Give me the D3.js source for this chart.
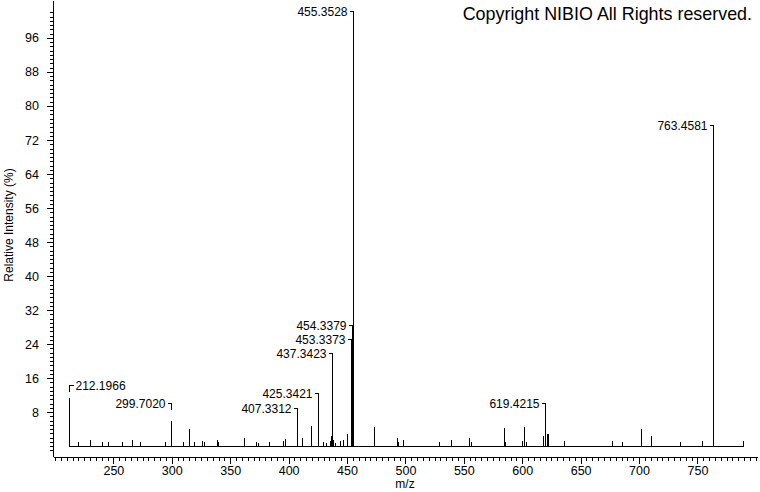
<!DOCTYPE html>
<html>
<head>
<meta charset="utf-8">
<script src="https://cdn.jsdelivr.net/npm/d3@7"></script>
<style>
  html, body { margin: 0; padding: 0; background: #fff; }
  svg { display: block; font-family: "Liberation Sans", Arial, sans-serif; }
</style>
</head>
<body>
<svg id="spectrum" width="760" height="492"></svg>
<script>
// peak list (m/z, relative intensity %)
const peakMz = [
  212.1966, 219.9, 229.9, 239.9, 245.6, 257.1, 265.6, 272.7, 294.2, 299.7020,
  309.8, 315.0, 319.0, 325.6, 327.6, 338.4, 339.8, 362.2, 371.8, 374.1,
  383.6, 395.6, 397.0, 407.3312, 411.1, 419.6, 425.3421, 429.5, 432.3, 435.3,
  436.3, 437.3423, 438.3, 440.0, 444.0, 446.5, 449.6, 453.3373, 454.3379, 455.3528,
  473.3, 492.5, 494.0, 498.2, 529.1, 539.0, 554.8, 556.2, 584.2, 585.0,
  599.9, 601.9, 603.3, 618.1, 619.4215, 621.0, 622.4, 636.1, 677.2, 685.8,
  702.1, 710.1, 735.0, 754.3, 763.4581, 788.6
];
const peakInt = [
  11.2, 1.0, 1.4, 1.0, 1.0, 1.0, 1.3, 1.0, 1.0, 6.0,
  1.0, 4.1, 1.0, 1.2, 1.0, 1.3, 1.0, 2.0, 1.0, 0.8,
  1.0, 1.2, 1.6, 6.1, 2.0, 4.6, 12.0, 1.0, 0.8, 1.2,
  2.4, 21.2, 1.4, 0.8, 1.2, 1.4, 2.9, 24.8, 28.0, 100,
  4.5, 1.8, 0.9, 1.5, 1.0, 1.5, 2.0, 1.0, 4.3, 0.9,
  1.2, 4.5, 1.0, 2.4, 9.6, 2.9, 2.9, 1.2, 1.2, 1.0,
  4.1, 2.4, 1.0, 1.2, 74.8, 1.2
];

// annotated peaks and the intensity level their label sits at
const labelMz = [212.1966, 299.7020, 407.3312, 425.3421, 437.3423, 453.3373, 454.3379, 455.3528, 619.4215, 763.4581];
const labelLevel = [14.35, 10.05, 9.0, 12.4, 21.8, 25.2, 28.5, 102.35, 10.05, 75.5];

const xTicksMajor = d3.range(250, 751, 50);
const xTicksMinor = d3.range(200, 801, 5);
const yTicksMajor = d3.range(8, 97, 8);
const yTicksMinor = d3.range(-1, 103, 1);

const copyright = "Copyright NIBIO All Rights reserved.";

const svg = d3.select("#spectrum");
const width = 760, height = 492;

const x = d3.scaleLinear().domain([198.3, 801]).range([53, 757]);
const y = d3.scaleLinear().domain([-2.35, 104.94]).range([456, 0]);

const peaks = peakMz.map((m, i) => ({ mz: m, v: peakInt[i] }));

// axes
const gx = svg.append("g").attr("transform", "translate(0,457)");
gx.call(d3.axisBottom(x).tickValues(xTicksMinor).tickSize(4).tickSizeOuter(0).tickFormat(""));
gx.append("g").call(d3.axisBottom(x).tickValues(xTicksMajor).tickSize(7).tickPadding(2).tickSizeOuter(0))
  .call(g => g.select(".domain").remove());

const gy = svg.append("g").attr("transform", "translate(53,0)");
gy.call(d3.axisLeft(y).tickValues(yTicksMinor).tickSize(3).tickSizeOuter(0).tickFormat(""));
gy.append("g").call(d3.axisLeft(y).tickValues(yTicksMajor).tickSize(6).tickPadding(8).tickSizeOuter(0))
  .call(g => g.select(".domain").remove());

svg.selectAll(".tick text")
  .attr("font-size", "12.5px")
  .attr("font-family", "'Liberation Sans', Arial, sans-serif")
  .attr("fill", "#000");
svg.selectAll("path.domain, .tick line")
  .attr("stroke", "#000")
  .attr("shape-rendering", "crispEdges");

// spectrum baseline and sticks
const y0 = Math.round(y(0)) + 0.5;
svg.append("line")
  .attr("x1", Math.round(x(d3.min(peakMz))) + 0.5)
  .attr("x2", Math.round(x(d3.max(peakMz))) + 0.5)
  .attr("y1", y0).attr("y2", y0)
  .attr("stroke", "#000")
  .attr("shape-rendering", "crispEdges");

svg.selectAll(".peak")
  .data(peaks)
  .join("line")
  .attr("class", "peak")
  .attr("x1", d => Math.round(x(d.mz)) + 0.5)
  .attr("x2", d => Math.round(x(d.mz)) + 0.5)
  .attr("y1", y0)
  .attr("y2", d => Math.round(y(d.v)))
  .attr("stroke", "#000")
  .attr("shape-rendering", "crispEdges");

// peak annotations with bracket connectors
const labels = labelMz.map((m, i) => {
  const p = peaks.find(d => d.mz === m);
  return { mz: m, v: p.v, level: labelLevel[i] };
});

const lab = svg.selectAll(".lab")
  .data(labels)
  .join("g")
  .attr("class", "lab");

lab.each(function(d){
  const g = d3.select(this);
  const px = Math.round(x(d.mz)) + 0.5;
  const ly = Math.round(y(d.level)) + 0.5;
  const top = Math.round(y(d.v));
  const left = px < 100; // label text to the right of the stick near the left edge
  const dir = left ? 1 : -1;
  const drop = (top - ly) < 12 ? top : ly + 6;
  g.append("path")
    .attr("d", `M${px + dir * 4},${ly}H${px}V${drop}`)
    .attr("fill", "none")
    .attr("stroke", "#000")
    .attr("shape-rendering", "crispEdges");
  g.append("text")
    .attr("x", px + dir * 6)
    .attr("y", ly)
    .attr("dy", "0.36em")
    .attr("text-anchor", left ? "start" : "end")
    .attr("font-size", "12px")
    .attr("fill", "#000")
    .text(d.mz.toFixed(4));
});

// titles
svg.append("text")
  .attr("x", 405)
  .attr("y", 488)
  .attr("text-anchor", "middle")
  .attr("font-size", "12px")
  .text("m/z");

svg.append("text")
  .attr("transform", "translate(13,225) rotate(-90)")
  .attr("text-anchor", "middle")
  .attr("font-size", "12px")
  .text("Relative Intensity (%)");

svg.append("text")
  .attr("x", 752)
  .attr("y", 20)
  .attr("text-anchor", "end")
  .attr("font-size", "17.9px")
  .text(copyright);
</script>
</body>
</html>
